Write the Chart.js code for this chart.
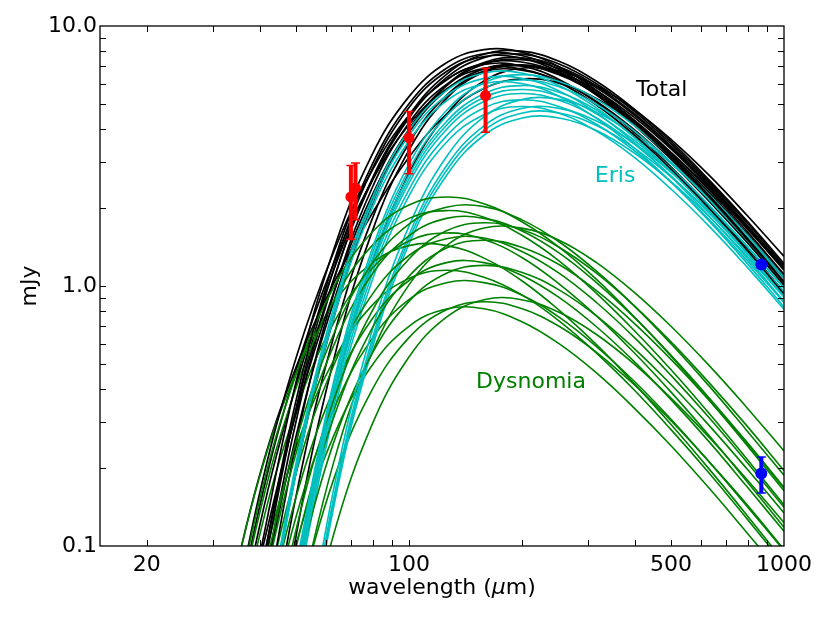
<!DOCTYPE html>
<html lang="en">
<head>
<meta charset="utf-8">
<script src="https://cdn.jsdelivr.net/npm/chart.js@4.4.0/dist/chart.umd.min.js"></script>
<style>
  html, body { margin: 0; padding: 0; background: #fff; }
  #wrap { width: 830px; height: 623px; }
</style>
</head>
<body>
<div id="wrap"><canvas id="sed" width="830" height="623"></canvas></div>
<script>
// wavelength grid (micron) shared by all model curves
var lam = [25.1, 31.6, 39.8, 50.1, 63.1, 79.4, 100, 125.9, 158.5, 199.5, 251.2, 316.2, 398.1, 501.2, 631.0, 794.3, 1000];

// model SEDs in mJy (null = below the axis)
var totalFlux = [
  [null, null, 0.072, 0.368, 1.24, 2.89, 5.02, 6.88, 7.82, 7.70, 6.80, 5.54, 4.24, 3.11, 2.20, 1.52, 1.03],
  [null, null, 0.089, 0.433, 1.39, 3.16, 5.35, 7.22, 8.11, 7.93, 6.97, 5.66, 4.33, 3.16, 2.23, 1.54, 1.04],
  [null, null, 0.086, 0.327, 0.953, 2.20, 4.01, 5.88, 7.13, 7.43, 6.86, 5.78, 4.55, 3.40, 2.44, 1.71, 1.17],
  [null, null, 0.074, 0.337, 1.07, 2.51, 4.53, 6.52, 7.79, 8.00, 7.32, 6.13, 4.80, 3.58, 2.56, 1.79, 1.22],
  [null, null, 0.040, 0.251, 0.941, 2.35, 4.24, 5.96, 6.87, 6.83, 6.07, 4.97, 3.82, 2.80, 1.99, 1.38, 0.928],
  [null, null, 0.032, 0.195, 0.760, 2.03, 3.94, 5.92, 7.24, 7.55, 6.97, 5.87, 4.61, 3.44, 2.48, 1.72, 1.18],
  [null, null, 0.057, 0.268, 0.878, 2.11, 3.89, 5.67, 6.84, 7.06, 6.49, 5.45, 4.28, 3.19, 2.29, 1.59, 1.09],
  [null, 0.029, 0.155, 0.534, 1.36, 2.75, 4.54, 6.20, 7.19, 7.27, 6.59, 5.49, 4.28, 3.17, 2.28, 1.59, 1.08],
  [null, null, null, 0.079, 0.380, 1.21, 2.71, 4.57, 6.14, 6.88, 6.72, 5.89, 4.78, 3.65, 2.67, 1.88, 1.30],
  [null, 0.026, 0.138, 0.478, 1.23, 2.51, 4.17, 5.73, 6.68, 6.77, 6.15, 5.13, 4.00, 2.97, 2.12, 1.48, 1.01],
  [null, null, 0.065, 0.343, 1.17, 2.77, 4.86, 6.68, 7.62, 7.52, 6.66, 5.43, 4.16, 3.06, 2.16, 1.49, 1.01],
  [null, 0.021, 0.116, 0.421, 1.16, 2.52, 4.43, 6.33, 7.56, 7.79, 7.14, 6.00, 4.71, 3.51, 2.52, 1.76, 1.20],
  [null, null, 0.056, 0.306, 1.06, 2.55, 4.49, 6.22, 7.11, 7.03, 6.23, 5.09, 3.91, 2.86, 2.03, 1.40, 0.948],
  [null, null, 0.013, 0.111, 0.525, 1.59, 3.33, 5.27, 6.66, 7.09, 6.63, 5.64, 4.46, 3.35, 2.41, 1.69, 1.15],
  [null, null, 0.024, 0.158, 0.645, 1.78, 3.54, 5.41, 6.69, 7.03, 6.53, 5.52, 4.35, 3.25, 2.34, 1.63, 1.11],
  [null, 0.046, 0.183, 0.491, 1.03, 1.88, 3.13, 4.57, 5.75, 6.26, 6.03, 5.26, 4.25, 3.24, 2.37, 1.67, 1.16]
];

var erisFlux = [
  [null, null, 0.032, 0.212, 0.834, 2.15, 3.97, 5.65, 6.59, 6.60, 5.90, 4.84, 3.73, 2.75, 1.95, 1.35, 0.913],
  [null, null, 0.030, 0.203, 0.797, 2.06, 3.79, 5.40, 6.29, 6.30, 5.63, 4.63, 3.57, 2.62, 1.86, 1.29, 0.872],
  [null, null, null, 0.086, 0.433, 1.36, 2.94, 4.73, 6.05, 6.50, 6.12, 5.23, 4.15, 3.12, 2.25, 1.58, 1.08],
  [null, null, null, 0.082, 0.413, 1.30, 2.80, 4.51, 5.77, 6.20, 5.84, 4.99, 3.96, 2.98, 2.15, 1.51, 1.03],
  [null, null, 0.029, 0.193, 0.759, 1.96, 3.61, 5.15, 6.00, 6.01, 5.37, 4.41, 3.40, 2.50, 1.78, 1.23, 0.831],
  [null, null, null, 0.078, 0.393, 1.24, 2.67, 4.29, 5.49, 5.90, 5.56, 4.75, 3.77, 2.83, 2.05, 1.43, 0.980],
  [null, null, null, 0.075, 0.380, 1.19, 2.58, 4.15, 5.31, 5.70, 5.37, 4.59, 3.64, 2.74, 1.98, 1.38, 0.947],
  [null, null, null, 0.073, 0.367, 1.15, 2.49, 4.00, 5.12, 5.50, 5.18, 4.43, 3.52, 2.64, 1.91, 1.34, 0.914],
  [null, null, null, 0.025, 0.168, 0.660, 1.70, 3.14, 4.47, 5.21, 5.22, 4.66, 3.83, 2.95, 2.17, 1.54, 1.07],
  [null, null, null, 0.069, 0.347, 1.09, 2.35, 3.78, 4.84, 5.20, 4.90, 4.19, 3.32, 2.50, 1.80, 1.26, 0.864],
  [null, null, null, 0.023, 0.155, 0.610, 1.57, 2.90, 4.13, 4.82, 4.82, 4.31, 3.54, 2.73, 2.01, 1.43, 0.986],
  [null, null, null, 0.022, 0.149, 0.585, 1.51, 2.78, 3.97, 4.62, 4.63, 4.14, 3.40, 2.62, 1.93, 1.37, 0.946],
  [null, null, null, 0.021, 0.143, 0.560, 1.45, 2.66, 3.80, 4.42, 4.43, 3.96, 3.25, 2.51, 1.85, 1.31, 0.906],
  [null, null, null, 0.065, 0.327, 1.03, 2.22, 3.57, 4.56, 4.90, 4.62, 3.94, 3.13, 2.35, 1.70, 1.19, 0.814]
];

var dysnomiaFlux = [
  [null, 0.029, 0.147, 0.461, 0.995, 1.60, 2.05, 2.20, 2.07, 1.77, 1.41, 1.06, 0.763, 0.534, 0.365, 0.245, 0.163],
  [null, null, 0.065, 0.255, 0.658, 1.21, 1.73, 2.01, 2.02, 1.80, 1.48, 1.14, 0.841, 0.597, 0.413, 0.279, 0.187],
  [null, 0.026, 0.130, 0.409, 0.882, 1.42, 1.82, 1.95, 1.84, 1.57, 1.25, 0.937, 0.676, 0.474, 0.324, 0.217, 0.144],
  [null, null, 0.059, 0.230, 0.594, 1.10, 1.56, 1.82, 1.82, 1.63, 1.34, 1.03, 0.759, 0.539, 0.372, 0.252, 0.168],
  [null, null, 0.023, 0.117, 0.367, 0.792, 1.27, 1.63, 1.75, 1.65, 1.41, 1.12, 0.841, 0.607, 0.425, 0.291, 0.195],
  [null, 0.021, 0.107, 0.335, 0.724, 1.16, 1.49, 1.60, 1.51, 1.29, 1.02, 0.768, 0.555, 0.389, 0.266, 0.178, 0.118],
  [null, null, 0.049, 0.193, 0.498, 0.918, 1.31, 1.52, 1.53, 1.36, 1.12, 0.864, 0.636, 0.451, 0.312, 0.211, 0.141],
  [null, null, 0.020, 0.100, 0.314, 0.679, 1.09, 1.40, 1.50, 1.41, 1.21, 0.959, 0.720, 0.520, 0.364, 0.249, 0.167],
  [null, 0.046, 0.181, 0.466, 0.859, 1.22, 1.43, 1.43, 1.28, 1.05, 0.808, 0.595, 0.422, 0.292, 0.198, 0.132, 0.087],
  [null, null, 0.040, 0.156, 0.402, 0.740, 1.05, 1.23, 1.23, 1.10, 0.904, 0.697, 0.513, 0.364, 0.252, 0.170, 0.114],
  [null, null, null, 0.080, 0.252, 0.543, 0.873, 1.12, 1.20, 1.13, 0.966, 0.767, 0.576, 0.416, 0.291, 0.199, 0.134],
  [null, null, 0.077, 0.241, 0.520, 0.837, 1.07, 1.15, 1.08, 0.926, 0.735, 0.552, 0.399, 0.279, 0.191, 0.128, 0.085],
  [null, null, 0.033, 0.131, 0.337, 0.622, 0.886, 1.03, 1.03, 0.924, 0.759, 0.585, 0.431, 0.306, 0.211, 0.143, 0.096],
  [null, null, null, 0.058, 0.182, 0.394, 0.633, 0.810, 0.870, 0.819, 0.700, 0.556, 0.418, 0.302, 0.211, 0.145, 0.097],
  [null, null, 0.026, 0.103, 0.267, 0.491, 0.700, 0.816, 0.817, 0.730, 0.600, 0.463, 0.340, 0.242, 0.167, 0.113, 0.076],
  [null, null, null, 0.029, 0.112, 0.289, 0.533, 0.759, 0.885, 0.886, 0.792, 0.651, 0.502, 0.369, 0.262, 0.181, 0.123],
  [null, null, null, 0.054, 0.212, 0.546, 1.01, 1.43, 1.67, 1.67, 1.50, 1.23, 0.947, 0.697, 0.495, 0.342, 0.232]
];

// photometry (mJy) with error bar ends
var redLam  = [70, 72, 100, 160];
var redFlux = [2.20, 2.38, 3.71, 5.40];
var redLo   = [1.51, 1.80, 2.70, 3.90];
var redHi   = [2.91, 2.97, 4.69, 6.88];
var blueLam  = [870, 870];
var blueFlux = [1.21, 0.19];
var blueLo   = [1.17, 0.16];
var blueHi   = [1.25, 0.22];

// ticks
var xLabelTicks = [20, 100, 500, 1000];
var xMarkTicks = [20, 30, 40, 50, 60, 70, 80, 90, 100, 200, 300, 400, 500, 600, 700, 800, 900];
var yLabelTicks = [0.1, 1, 10];
var yMarkTicks = [0.2, 0.3, 0.4, 0.5, 0.6, 0.7, 0.8, 0.9, 1, 2, 3, 4, 5, 6, 7, 8, 9];

// curve family names, anchored in data coordinates
var familyNames = ['Total', 'Eris', 'Dysnomia'];
var nameLam  = [403, 313, 151];
var nameFlux = [5.40, 2.51, 0.405];

var colTotal = '#000000', colEris = '#00bfbf', colDys = '#008000';
var FONT = '"DejaVu Sans", "Liberation Sans", sans-serif';

function curve(vals, color, w) {
  var pts = [];
  for (var k = 0; k < lam.length; k++) {
    if (vals[k] != null) pts.push({x: lam[k], y: vals[k]});
  }
  return {
    data: pts, borderColor: color, borderWidth: w, pointRadius: 0, fill: false,
    tension: 0.4, clip: 0, order: 1
  };
}

function markers(xs, ys, color, r) {
  return {
    data: xs.map(function(x, i) { return {x: x, y: ys[i]}; }),
    showLine: false, pointRadius: r, pointBackgroundColor: color,
    pointBorderColor: color, pointBorderWidth: 0, borderColor: color, order: 0
  };
}

var datasets = [];
datasets.push(markers(redLam, redFlux, '#ff0000', 5.5));
datasets.push(markers(blueLam, blueFlux, '#0000ff', 6));
for (var i = 0; i < 17; i++) {
  if (totalFlux[i]) datasets.push(curve(totalFlux[i], colTotal, 1.7));
  if (erisFlux[i]) datasets.push(curve(erisFlux[i], colEris, 1.6));
  if (dysnomiaFlux[i]) datasets.push(curve(dysnomiaFlux[i], colDys, 1.6));
}

var decor = {
  id: 'decor',
  afterDatasetsDraw: function(chart) {
    var ctx = chart.ctx, xs = chart.scales.x, ys = chart.scales.y;
    ctx.save();
    function bars(xv, lo, hi, color) {
      ctx.strokeStyle = color;
      for (var i = 0; i < xv.length; i++) {
        var px = xs.getPixelForValue(xv[i]);
        var p1 = ys.getPixelForValue(lo[i]), p2 = ys.getPixelForValue(hi[i]);
        ctx.lineWidth = 4;
        ctx.beginPath(); ctx.moveTo(px, p1); ctx.lineTo(px, p2); ctx.stroke();
        ctx.lineWidth = 1.5;
        ctx.beginPath();
        ctx.moveTo(px - 4.5, p1); ctx.lineTo(px + 4.5, p1);
        ctx.moveTo(px - 4.5, p2); ctx.lineTo(px + 4.5, p2);
        ctx.stroke();
      }
    }
    bars(redLam, redLo, redHi, '#ff0000');
    bars(blueLam, blueLo, blueHi, '#0000ff');
    ctx.restore();
  },
  afterDraw: function(chart) {
    var ctx = chart.ctx, a = chart.chartArea, xs = chart.scales.x, ys = chart.scales.y;
    ctx.save();
    // frame + inward ticks on all four sides
    ctx.strokeStyle = '#000';
    ctx.lineWidth = 1.3;
    ctx.strokeRect(a.left, a.top, a.right - a.left, a.bottom - a.top);
    ctx.lineWidth = 1;
    ctx.beginPath();
    xMarkTicks.forEach(function(v) {
      var px = Math.round(xs.getPixelForValue(v)) + 0.5;
      ctx.moveTo(px, a.bottom); ctx.lineTo(px, a.bottom - 6);
      ctx.moveTo(px, a.top); ctx.lineTo(px, a.top + 6);
    });
    yMarkTicks.forEach(function(v) {
      var py = Math.round(ys.getPixelForValue(v)) + 0.5;
      ctx.moveTo(a.left, py); ctx.lineTo(a.left + 6, py);
      ctx.moveTo(a.right, py); ctx.lineTo(a.right - 6, py);
    });
    ctx.stroke();

    // family names
    var cols = [colTotal, colEris, colDys];
    ctx.font = '22px ' + FONT;
    ctx.textAlign = 'left';
    ctx.textBaseline = 'alphabetic';
    familyNames.forEach(function(t, i) {
      ctx.fillStyle = cols[i];
      ctx.fillText(t, xs.getPixelForValue(nameLam[i]), ys.getPixelForValue(nameFlux[i]));
    });

    // axis titles
    ctx.fillStyle = '#000';
    ctx.textBaseline = 'middle';
    var p1 = 'wavelength (', p2 = '\u03bc', p3 = 'm)';
    ctx.font = '22px ' + FONT;
    var w1 = ctx.measureText(p1).width, w3 = ctx.measureText(p3).width;
    ctx.font = 'italic 22px ' + FONT;
    var w2 = ctx.measureText(p2).width;
    var sx = (a.left + a.right) / 2 - (w1 + w2 + w3) / 2, ty = 588;
    ctx.font = '22px ' + FONT;
    ctx.fillText(p1, sx, ty);
    ctx.font = 'italic 22px ' + FONT;
    ctx.fillText(p2, sx + w1, ty);
    ctx.font = '22px ' + FONT;
    ctx.fillText(p3, sx + w1 + w2, ty);

    ctx.translate(30, (a.top + a.bottom) / 2);
    ctx.rotate(-Math.PI / 2);
    ctx.textAlign = 'center';
    ctx.fillText('mJy', 0, 0);
    ctx.restore();
  }
};

new Chart(document.getElementById('sed'), {
  type: 'line',
  data: { datasets: datasets },
  options: {
    responsive: false,
    animation: false,
    devicePixelRatio: 1,
    events: [],
    layout: { padding: { left: 0, top: 26, right: 46, bottom: 0 } },
    plugins: { legend: { display: false }, tooltip: { enabled: false } },
    scales: {
      x: {
        type: 'logarithmic', min: 15, max: 1000,
        grid: { display: false, drawTicks: false },
        border: { display: false },
        ticks: {
          autoSkip: false, maxRotation: 0, padding: 6, color: '#000',
          font: { family: FONT, size: 22 },
          callback: function(v) { return String(v); }
        },
        afterBuildTicks: function(s) { s.ticks = xLabelTicks.map(function(v) { return {value: v}; }); },
        afterFit: function(s) { s.height = 77; }
      },
      y: {
        type: 'logarithmic', min: 0.1, max: 10,
        grid: { display: false, drawTicks: false },
        border: { display: false },
        ticks: {
          autoSkip: false, padding: 3, color: '#000',
          font: { family: FONT, size: 22 },
          callback: function(v) { return Number(v).toFixed(1); }
        },
        afterBuildTicks: function(s) { s.ticks = yLabelTicks.map(function(v) { return {value: v}; }); },
        afterFit: function(s) { s.width = 100; }
      }
    }
  },
  plugins: [decor]
});
</script>
</body>
</html>
